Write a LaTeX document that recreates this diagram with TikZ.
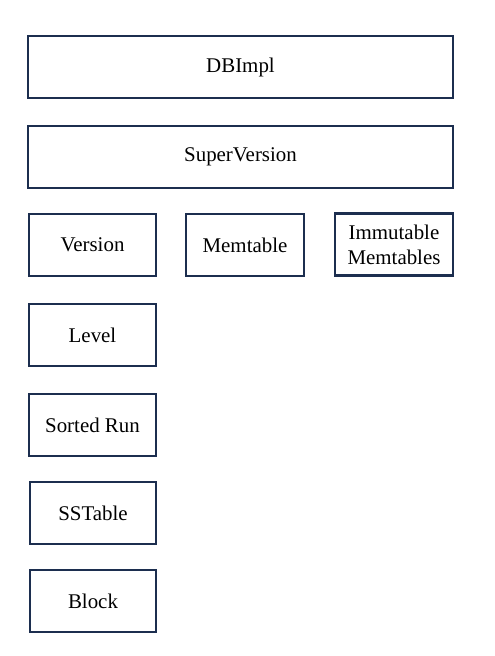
\documentclass[tikz,border=0pt]{standalone}
\usepackage{fontspec}
\setmainfont{Liberation Serif}
\definecolor{navy}{HTML}{1C2E4F}
\usepackage{tikz}
\usetikzlibrary{positioning}

\begin{document}
\begin{tikzpicture}[x=0.02cm, y=-0.02cm,
  layer/.style={draw=navy, line width=1.35pt, fill=white,
                minimum height=1.24cm, align=center,
                font=\fontsize{11.9}{14.2}\selectfont, inner sep=2pt},
  wide/.style={layer, minimum width=8.5cm},
  small/.style={layer, minimum width=2.54cm},
  mem/.style={layer, minimum width=2.36cm},
]
\useasboundingbox (0,0) rectangle (494,656);

\node[wide] (dbimpl) at (240.5,67) {DBImpl};
\node[wide] (superversion) at (240.5,157) {SuperVersion};

\node[small] (version) at (92.5,245) {Version};
\node[mem] (memtable) at (245,245) {Memtable};
\node[mem] (immutable) at (394,244.5) {Immutable\\Memtables};

\node[small] (level) at (92.5,335) {Level};
\node[small] (sortedrun) at (92.5,425) {Sorted Run};
\node[small, minimum width=2.52cm] (sstable) at (93,513) {SSTable};
\node[small, minimum width=2.52cm] (block) at (93,601) {Block};
\end{tikzpicture}
\end{document}
